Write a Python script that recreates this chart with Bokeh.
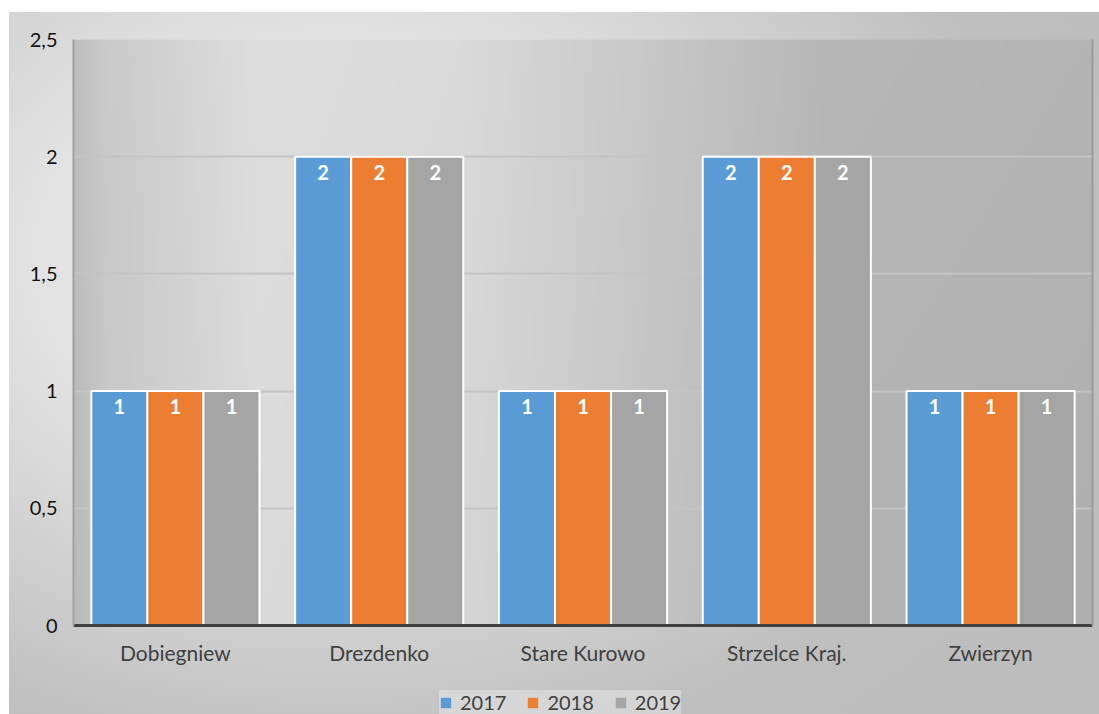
import numpy as np
from bokeh.plotting import figure
from bokeh.models import (ColumnDataSource, FactorRange, Legend, LegendItem, LabelSet,
                          FixedTicker, LinearAxis)
from bokeh.transform import dodge
from bokeh.core.properties import value
from bokeh.embed import file_html
from bokeh.resources import INLINE

categories = ["Dobiegniew", "Drezdenko", "Stare Kurowo", "Strzelce Kraj.", "Zwierzyn"]
years = ["2017", "2018", "2019"]
v2017 = [1, 2, 1, 2, 1]
v2018 = [1, 2, 1, 2, 1]
v2019 = [1, 2, 1, 2, 1]
y_ticks = [0, 0.5, 1, 1.5, 2, 2.5]
y_tick_labels = ["0", "0,5", "1", "1,5", "2", "2,5"]
colors = ["#5b9bd5", "#ed7d31", "#a5a5a5"]

src = ColumnDataSource(dict(cat=categories, y2017=v2017, y2018=v2018, y2019=v2019,
                            l2017=[str(v) for v in v2017],
                            l2018=[str(v) for v in v2018],
                            l2019=[str(v) for v in v2019]))

FONT = "Lato"
YMAX = 2.5
PLOT_PX = 586      # pixel height of the 0..YMAX band
BELOW_PX = 89      # pixel space under the zero line (category labels + legend)
ymin = -YMAX * BELOW_PX / PLOT_PX

p = figure(x_range=FactorRange(*categories, range_padding=0), y_range=(ymin, YMAX),
           frame_width=1019, frame_height=PLOT_PX + BELOW_PX,
           output_backend="svg", toolbar_location=None,
           min_border_left=64, min_border_top=27, min_border_right=7, min_border_bottom=0,
           margin=(12, 0, 0, 9),
           styles={"background": "radial-gradient(ellipse 80% 90% at 30% 35%, #ececec 0%, #e2e2e2 35%, #cdcdcd 62%, #bfbfbf 80%, #bdbdbd 100%)"})
p.border_fill_alpha = 0
p.background_fill_alpha = 0
p.outline_line_color = None

# plot-area gradient
W, H = 300, 60
xs = np.linspace(0, 1, W)
stops_x = [0, 0.03, 0.18, 0.38, 0.58, 0.74, 1.0]
stops_v = [0xbc, 0xc8, 0xdc, 0xd8, 0xc4, 0xb5, 0xb2]
row = np.interp(xs, stops_x, stops_v)
ys = np.linspace(0, 1, H)
grid = row[None, :] + (ys[:, None] - 0.5) * 4
grid = np.clip(grid, 0, 255).astype(np.uint32)
img = (255 << 24) | (grid << 16) | (grid << 8) | grid
p.image_rgba(image=[img.view(np.uint32)], x=0, y=0, dw=len(categories), dh=YMAX, level="image")

bw = 0.275
offs = [-bw, 0, bw]
legend_renderers = []
for yr, off, c in zip(years, offs, colors):
    # zero-height, outline-free bars used only as legend swatches
    lr = p.vbar(x=dodge("cat", off, range=p.x_range), top=0, width=bw, source=src,
                fill_color=c, line_color=None)
    legend_renderers.append(lr)
    p.vbar(x=dodge("cat", off, range=p.x_range), top="y" + yr, width=bw, source=src,
           fill_color=c, line_color="white", line_width=2)
    lab = LabelSet(x=dodge("cat", off, range=p.x_range), y="y" + yr, text="l" + yr, source=src,
                   text_align="center", text_baseline="top", y_offset=-8,
                   text_color="white", text_font_style="bold", text_font_size="20px",
                   text_font=value(FONT))
    p.add_layout(lab)

p.ygrid.grid_line_color = "#c4c4c4"
p.ygrid.grid_line_width = 2
p.ygrid.bounds = (0, YMAX)
p.xgrid.grid_line_color = None

p.yaxis.ticker = FixedTicker(ticks=y_ticks)
p.yaxis.bounds = (0, YMAX)
p.yaxis.major_label_overrides = {t: l for t, l in zip(y_ticks, y_tick_labels)}
p.yaxis.major_label_text_font = FONT
p.yaxis.major_label_text_font_size = "20px"
p.yaxis.major_label_text_color = "#111111"
p.yaxis.axis_line_color = "#a0a0a0"
p.yaxis.axis_line_width = 2
p.yaxis.major_tick_line_color = None
p.yaxis.minor_tick_line_color = None
p.yaxis.major_label_standoff = 10

right = LinearAxis(bounds=(0, YMAX), ticker=FixedTicker(ticks=[]),
                   axis_line_color="#9a9a9a", axis_line_width=2,
                   major_tick_line_color=None, minor_tick_line_color=None,
                   major_label_text_font_size="0px", major_label_standoff=0)
p.add_layout(right, "right")

p.xaxis.fixed_location = 0
p.xaxis.axis_line_color = "#404040"
p.xaxis.axis_line_width = 3
p.xaxis.major_tick_line_color = None
p.xaxis.minor_tick_line_color = None
p.xaxis.major_label_text_font = FONT
p.xaxis.major_label_text_font_size = "21px"
p.xaxis.major_label_text_color = "#404040"
p.xaxis.major_label_standoff = 8

legend = Legend(items=[LegendItem(label=yr, renderers=[r]) for yr, r in zip(years, legend_renderers)],
                orientation="horizontal", location=(366, 0),
                label_text_font=FONT, label_text_font_size="20px", label_text_color="#404040",
                glyph_width=13, glyph_height=13, label_standoff=8, spacing=20,
                padding=2, margin=0,
                background_fill_color="#e8e8e8", background_fill_alpha=0.5,
                border_line_color=None)
p.add_layout(legend)

open("out.html", "w").write(file_html(p, INLINE))
